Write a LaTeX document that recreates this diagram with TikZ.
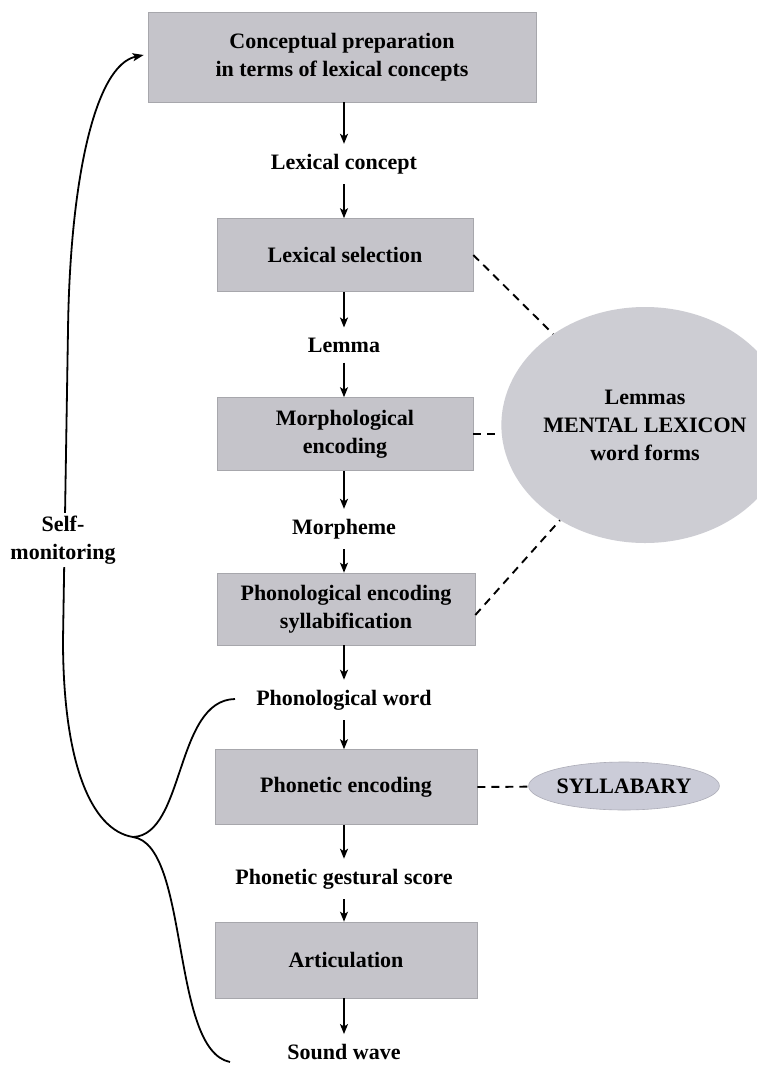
\documentclass[tikz,border=0pt]{standalone}
\usepackage{fontspec}
\setmainfont{Liberation Serif}
\usetikzlibrary{shapes.geometric,arrows.meta}
\definecolor{boxgray}{RGB}{197,196,202}
\definecolor{circgray}{RGB}{205,205,211}
\definecolor{sylgray}{RGB}{203,204,216}
\newcommand\dfont{\fontsize{22}{28}\selectfont\bfseries}
\begin{document}
\begin{tikzpicture}[x=1pt,y=-1pt,
  proc/.style={fill=boxgray, draw=boxgray!85!black, line width=0.6pt, align=center, inner sep=0pt, font=\dfont},
  stage/.style={inner xsep=2pt, inner ysep=10pt, font=\dfont, align=center},
  flow/.style={-{Stealth[length=10pt,width=8pt,inset=2.5pt]}, line width=1.7pt},
  link/.style={dash pattern=on 8pt off 6pt, line width=1.9pt},
  mon/.style={line width=1.8pt}
]
\fill[white] (0,0) rectangle (757,1066);
\useasboundingbox (0,0) rectangle (757,1066);

% main column
\node[proc, minimum width=388pt, minimum height=90pt] (cp) at (342,57) {Conceptual preparation\\in terms of lexical concepts};
\node[stage] (lc) at (344,164) {Lexical concept};
\node[proc, minimum width=256pt, minimum height=73pt] (ls) at (345,255) {Lexical selection};
\node[stage] (lm) at (344,345) {Lemma};
\node[proc, minimum width=256pt, minimum height=73pt] (me) at (345,434) {Morphological\\encoding};
\node[stage] (mp) at (344,529) {Morpheme};
\node[proc, minimum width=258pt, minimum height=72pt] (pe) at (346,609) {Phonological encoding\\syllabification};
\node[stage] (pw) at (344,700) {Phonological word};
\node[proc, minimum width=262pt, minimum height=75pt] (phe) at (346,787) {Phonetic encoding};
\node[stage] (gs) at (344,879) {Phonetic gestural score};
\node[proc, minimum width=262pt, minimum height=76pt] (ar) at (346,960) {Articulation};
\node[stage] (sw) at (344,1052) {Sound wave};

% stores
\node[ellipse, fill=circgray, minimum width=224pt, minimum height=236pt, inner sep=0pt, align=center, font=\dfont] (lex) at (645,425) {Lemmas\\MENTAL LEXICON\\word forms};
\node[ellipse, fill=sylgray, draw=sylgray!85!black, line width=0.6pt, minimum width=180pt, minimum height=48pt, inner sep=0pt, font=\dfont] (syl) at (624,786) {SYLLABARY};

% flow arrows
\draw[flow] (lc.north |- cp.south) -- (lc.north);
\draw[flow] (lc.south) -- (lc.south |- ls.north);
\draw[flow] (lm.north |- ls.south) -- (lm.north);
\draw[flow] (lm.south) -- (lm.south |- me.north);
\draw[flow] (mp.north |- me.south) -- (mp.north);
\draw[flow] (mp.south) -- (mp.south |- pe.north);
\draw[flow] (pw.north |- pe.south) -- (pw.north);
\draw[flow] (pw.south) -- (pw.south |- phe.north);
\draw[flow] (gs.north |- phe.south) -- (gs.north);
\draw[flow] (gs.south) -- (gs.south |- ar.north);
\draw[flow] (sw.north |- ar.south) -- (sw.north);

% dashed links
\draw[link] (ls.east) -- (lex);
\draw[link] (me.east) -- (me.east -| lex.west);
\draw[link] ([yshift=-6pt]pe.east) -- (lex);
\draw[link] (phe.east) -- (syl);

% self-monitoring loop
\coordinate (tip) at (133,837);
\coordinate (bt) at (235,699);
\coordinate (bb) at (230,1062);
\draw[mon] (tip) .. controls (185,835) and (175,700) .. (bt);
\draw[mon] (tip) .. controls (190,845) and (170,1050) .. (bb);
\draw[mon, -{Stealth[length=11pt,width=8pt,inset=2.5pt]}] (tip) .. controls (90,830) and (63,760) .. (63,640) -- (68,330) .. controls (70,180) and (95,65) .. ([xshift=-4pt,yshift=2pt]cp.west);
\node[font=\dfont, align=center, fill=white, inner sep=3pt] (sm) at (63,540) {Self-\\monitoring};
\end{tikzpicture}
\end{document}
